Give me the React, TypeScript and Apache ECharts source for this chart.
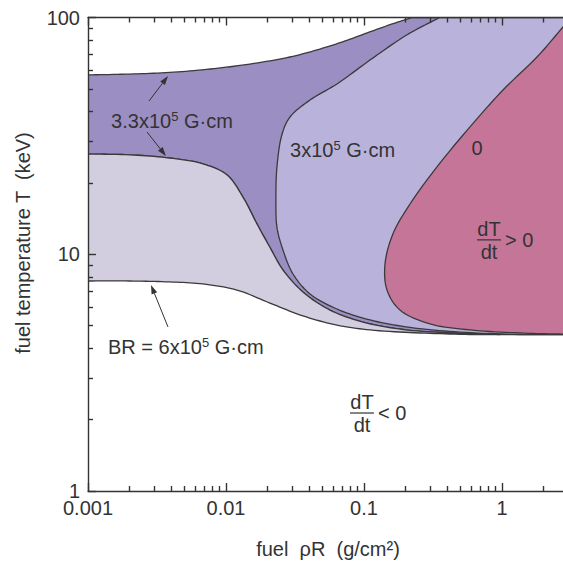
import React, { useEffect, useRef } from 'react';
import * as echarts from 'echarts';

const FONT = "'Liberation Sans', Arial, Helvetica, sans-serif";
const INK = '#333333';

// ---- axis ticks ----
const xTickValues = [0.001, 0.01, 0.1, 1];
const xTickLabels = ['0.001', '0.01', '0.1', '1'];
const yTickValues = [1, 10, 100];
const yTickLabels = ['1', '10', '100'];
const xMinorTicks = [
  0.002, 0.003, 0.004, 0.005, 0.006, 0.007, 0.008, 0.009,
  0.02, 0.03, 0.04, 0.05, 0.06, 0.07, 0.08, 0.09,
  0.2, 0.3, 0.4, 0.5, 0.6, 0.7, 0.8, 0.9,
  2, 3, 4, 5, 6, 7, 8, 9,
];
const yMinorTicks = [2, 3, 4, 5, 6, 7, 8, 9, 20, 30, 40, 50, 60, 70, 80, 90];

// ---- contour curves: [fuel rhoR (g/cm2), T (keV)] ----
const upperBranch33 = [
  [0.001, 57.2], [0.002, 57.7], [0.0039, 58.6], [0.0077, 60.6], [0.0149, 63.6],
  [0.029, 68.1], [0.048, 73.6], [0.073, 79.6], [0.11, 86.9], [0.16, 93.9], [0.223, 100],
];
const lowerBranch33 = [
  [0.001, 26.5], [0.002, 26.3], [0.0039, 25.5], [0.0068, 24.1], [0.0102, 21.6],
  [0.0133, 17.4], [0.0168, 13.4], [0.0208, 10.7], [0.0259, 8.58], [0.0361, 6.93],
  [0.0567, 5.81], [0.0984, 5.17], [0.192, 4.81], [0.42, 4.65], [0.967, 4.58],
];
const contour3 = [
  [0.355, 100], [0.277, 93.0], [0.198, 83.5], [0.1105, 66.1], [0.0637, 52.4],
  [0.0406, 44.8], [0.0291, 38.0], [0.0255, 32.2], [0.0234, 23.4], [0.023, 16.9],
  [0.0234, 13.0], [0.0259, 10.4], [0.0306, 8.25], [0.0406, 6.8], [0.0637, 5.87],
  [0.1105, 5.28], [0.2154, 4.91], [0.496, 4.69], [1.35, 4.58],
];
const contour0 = [
  [3.162, 100], [2.767, 91.2], [1.793, 68.1], [1.017, 49.4], [0.586, 34.5],
  [0.338, 23.4], [0.2154, 16.3], [0.1622, 12.2], [0.142, 9.09], [0.1468, 7.06],
  [0.1824, 5.81], [0.3008, 5.08], [0.586, 4.79], [1.35, 4.65], [2.767, 4.6], [10, 4.58],
];
const contour6 = [
  [0.001, 7.71], [0.002, 7.71], [0.0039, 7.64], [0.0068, 7.49], [0.012, 7.06],
  [0.0208, 6.22], [0.0361, 5.49], [0.0637, 5.02], [0.1105, 4.79], [0.2545, 4.65], [0.586, 4.58],
];

const X_MIN = 0.001, X_MAX = 10, Y_MIN = 1, Y_MAX = 100, T_FLOOR = 4.58;

// ---- annotations ----
const bLabelPos = [[0.00147, 36.5], [0.0291, 27.6], [0.001396, 4.06]];
const bLabelPre = ['3.3x10', '3x10', 'BR = 6x10'];
const zeroLabelPos = [[0.659, 28.1]];
const zeroLabelText = ['0'];
const fracPos = [[0.805, 11.5], [0.0967, 2.135]];
const fracSign = ['>', '<'];
const arrowSegs = [
  [0.00277, 44.4, 0.0038, 56.6],
  [0.00268, 32.8, 0.00367, 26.0],
  [0.0038, 4.93, 0.00286, 7.42],
];

type Piece = { pts: number[][]; smooth: boolean };
const rev = (a: number[][]) => a.slice().reverse();

const regions: { name: string; color: string; pieces: Piece[] }[] = [
  {
    name: 'BR 3.3x10^5', color: '#9b8ec3',
    pieces: [
      { pts: upperBranch33, smooth: true },
      { pts: [[X_MAX, Y_MAX], [X_MAX, T_FLOOR]], smooth: false },
      { pts: rev(lowerBranch33), smooth: true },
    ],
  },
  {
    name: 'BR 6x10^5', color: '#d2cddf',
    pieces: [
      { pts: lowerBranch33, smooth: true },
      { pts: rev(contour6), smooth: true },
    ],
  },
  {
    name: 'BR 3x10^5', color: '#b9b2da',
    pieces: [
      { pts: contour3, smooth: true },
      { pts: [[X_MAX, T_FLOOR], [X_MAX, Y_MAX]], smooth: false },
    ],
  },
  {
    name: 'BR 0', color: '#c57698',
    pieces: [
      { pts: contour0, smooth: true },
      { pts: [[X_MAX, Y_MAX]], smooth: false },
    ],
  },
];

function catmull(p: number[][], steps = 10): number[][] {
  const n = p.length;
  if (n < 3) return p;
  const out: number[][] = [];
  const get = (i: number) => {
    if (i < 0) return [2 * p[0][0] - p[1][0], 2 * p[0][1] - p[1][1]];
    if (i >= n) return [2 * p[n - 1][0] - p[n - 2][0], 2 * p[n - 1][1] - p[n - 2][1]];
    return p[i];
  };
  const d = (a: number[], b: number[]) => Math.max(Math.pow(Math.hypot(b[0] - a[0], b[1] - a[1]), 0.5), 1e-4);
  for (let i = 0; i < n - 1; i++) {
    const P0 = get(i - 1), P1 = get(i), P2 = get(i + 1), P3 = get(i + 2);
    const t0 = 0, t1 = t0 + d(P0, P1), t2 = t1 + d(P1, P2), t3 = t2 + d(P2, P3);
    for (let s = 0; s < steps; s++) {
      const t = t1 + ((t2 - t1) * s) / steps;
      const lerp = (A: number[], B: number[], ta: number, tb: number) => [
        ((tb - t) / (tb - ta)) * A[0] + ((t - ta) / (tb - ta)) * B[0],
        ((tb - t) / (tb - ta)) * A[1] + ((t - ta) / (tb - ta)) * B[1],
      ];
      const A1 = lerp(P0, P1, t0, t1), A2 = lerp(P1, P2, t1, t2), A3 = lerp(P2, P3, t2, t3);
      const B1 = lerp(A1, A2, t0, t2), B2 = lerp(A2, A3, t1, t3);
      out.push(lerp(B1, B2, t1, t2));
    }
  }
  out.push(p[n - 1]);
  return out;
}

const textBase = { fontFamily: FONT, fontSize: 20, fill: INK };

export default function App() {
  const ref = useRef<HTMLDivElement>(null);
  useEffect(() => {
    if (!ref.current) return;
    const chart = echarts.init(ref.current, undefined, { renderer: 'svg' });
    const lineStyle = { color: INK, width: 1.4 };
    const xFmt = (v: number) => {
      const i = xTickValues.findIndex((t) => Math.abs(Math.log10(t) - Math.log10(v)) < 1e-6);
      return i >= 0 ? xTickLabels[i] : '';
    };
    const yFmt = (v: number) => {
      const i = yTickValues.findIndex((t) => Math.abs(Math.log10(t) - Math.log10(v)) < 1e-6);
      return i >= 0 ? yTickLabels[i] : '';
    };
    const baseX = { type: 'log', min: X_MIN, max: X_MAX, z: 10, splitLine: { show: false } };
    const baseY = { type: 'log', min: Y_MIN, max: Y_MAX, z: 10, splitLine: { show: false } };

    const regionSeries = regions.map((r, ri) => {
      const all: number[][] = [];
      r.pieces.forEach((pc) => pc.pts.forEach((p) => all.push(p)));
      return {
        type: 'custom',
        name: r.name,
        coordinateSystem: 'cartesian2d',
        xAxisIndex: 0,
        yAxisIndex: 0,
        clip: true,
        silent: true,
        z: 2 + ri,
        data: all,
        renderItem: (params: any, api: any) => {
          if (params.dataIndex !== 0) return null;
          const pts: number[][] = [];
          r.pieces.forEach((pc) => {
            const px = pc.pts.map((p) => api.coord(p));
            (pc.smooth ? catmull(px) : px).forEach((q) => pts.push(q));
          });
          return {
            type: 'polygon',
            shape: { points: pts },
            style: { fill: r.color, stroke: '#3a3a3a', lineWidth: 1.3 },
          };
        },
      };
    });

    const supRich = {
      n: { fontFamily: FONT, fontSize: 20, fill: INK, lineHeight: 22 },
      s: { fontFamily: FONT, fontSize: 13, fill: INK, verticalAlign: 'top', lineHeight: 22 },
    };

    const option: any = {
      animation: false,
      backgroundColor: '#ffffff',
      grid: { left: 88, top: 17.5, right: -77, bottom: 71, containLabel: false, outerBoundsMode: 'none' },
      xAxis: [
        {
          ...baseX, position: 'bottom',
          axisLine: { show: true, onZero: false, lineStyle },
          axisTick: { show: true, inside: true, length: 8, lineStyle },
          axisLabel: { show: true, margin: 8, fontSize: 20, lineHeight: 18, fontFamily: FONT, color: INK, formatter: xFmt },
        },
        {
          ...baseX, position: 'bottom',
          axisLine: { show: false, onZero: false },
          axisTick: { show: true, inside: true, length: 5, lineStyle, customValues: xMinorTicks },
          axisLabel: { show: false },
        },
        {
          ...baseX, position: 'top',
          axisLine: { show: true, onZero: false, lineStyle },
          axisTick: { show: true, inside: true, length: 8, lineStyle },
          axisLabel: { show: false },
        },
        {
          ...baseX, position: 'top',
          axisLine: { show: false, onZero: false },
          axisTick: { show: true, inside: true, length: 5, lineStyle, customValues: xMinorTicks },
          axisLabel: { show: false },
        },
      ],
      yAxis: [
        {
          ...baseY, position: 'left',
          axisLine: { show: true, onZero: false, lineStyle },
          axisTick: { show: true, inside: true, length: 8, lineStyle },
          axisLabel: { show: true, margin: 8, fontSize: 20, lineHeight: 14, fontFamily: FONT, color: INK, formatter: yFmt },
        },
        {
          ...baseY, position: 'left',
          axisLine: { show: false, onZero: false },
          axisTick: { show: true, inside: true, length: 5, lineStyle, customValues: yMinorTicks },
          axisLabel: { show: false },
        },
      ],
      graphic: [
        {
          type: 'text', x: 328, y: 549, z: 20,
          style: { ...textBase, text: 'fuel  ρR  (g/cm²)', align: 'center', verticalAlign: 'middle' },
        },
        {
          type: 'text', x: 23, y: 243, rotation: Math.PI / 2, z: 20,
          style: { ...textBase, text: 'fuel temperature T  (keV)', align: 'center', verticalAlign: 'middle' },
        },
      ],
      series: [
        ...regionSeries,
        {
          type: 'custom', name: 'B labels', coordinateSystem: 'cartesian2d', silent: true, z: 20,
          data: bLabelPos,
          renderItem: (params: any, api: any) => {
            const p = api.coord([api.value(0), api.value(1)]);
            return {
              type: 'text', x: p[0], y: p[1],
              style: {
                text: `{n|${bLabelPre[params.dataIndex]}}{s|5}{n| G·cm}`,
                rich: supRich, ...textBase, align: 'left', verticalAlign: 'middle',
              },
            };
          },
        },
        {
          type: 'custom', name: 'zero label', coordinateSystem: 'cartesian2d', silent: true, z: 20,
          data: zeroLabelPos,
          renderItem: (params: any, api: any) => {
            const p = api.coord([api.value(0), api.value(1)]);
            return {
              type: 'text', x: p[0], y: p[1],
              style: { ...textBase, text: zeroLabelText[params.dataIndex], align: 'center', verticalAlign: 'middle' },
            };
          },
        },
        {
          type: 'custom', name: 'dT/dt', coordinateSystem: 'cartesian2d', silent: true, z: 20,
          data: fracPos,
          renderItem: (params: any, api: any) => {
            const p = api.coord([api.value(0), api.value(1)]);
            return {
              type: 'group',
              children: [
                { type: 'text', x: p[0], y: p[1] - 11, style: { ...textBase, text: 'dT', align: 'center', verticalAlign: 'middle' } },
                { type: 'line', shape: { x1: p[0] - 12, y1: p[1], x2: p[0] + 12, y2: p[1] }, style: { stroke: INK, lineWidth: 1.2 } },
                { type: 'text', x: p[0], y: p[1] + 12, style: { ...textBase, text: 'dt', align: 'center', verticalAlign: 'middle' } },
                { type: 'text', x: p[0] + 16, y: p[1], style: { ...textBase, text: `${fracSign[params.dataIndex]} 0`, align: 'left', verticalAlign: 'middle' } },
              ],
            };
          },
        },
        {
          type: 'custom', name: 'arrows', coordinateSystem: 'cartesian2d', silent: true, z: 20,
          encode: { x: [0, 2], y: [1, 3] },
          data: arrowSegs,
          renderItem: (params: any, api: any) => {
            const a = api.coord([api.value(0), api.value(1)]);
            const b = api.coord([api.value(2), api.value(3)]);
            const ang = Math.atan2(b[1] - a[1], b[0] - a[0]);
            const L = 9, W = 3;
            const c = Math.cos(ang), s = Math.sin(ang);
            const base = [b[0] - L * c, b[1] - L * s];
            return {
              type: 'group',
              children: [
                { type: 'line', shape: { x1: a[0], y1: a[1], x2: base[0], y2: base[1] }, style: { stroke: INK, lineWidth: 1 } },
                {
                  type: 'polygon',
                  shape: { points: [b, [base[0] - W * s, base[1] + W * c], [base[0] + W * s, base[1] - W * c]] },
                  style: { fill: INK },
                },
              ],
            };
          },
        },
      ],
    };
    chart.setOption(option);
    return () => chart.dispose();
  }, []);
  return (
    <div
      ref={ref}
      style={{ position: 'fixed', left: 0, top: 0, width: 563, height: 562, background: '#fff' }}
    />
  );
}
